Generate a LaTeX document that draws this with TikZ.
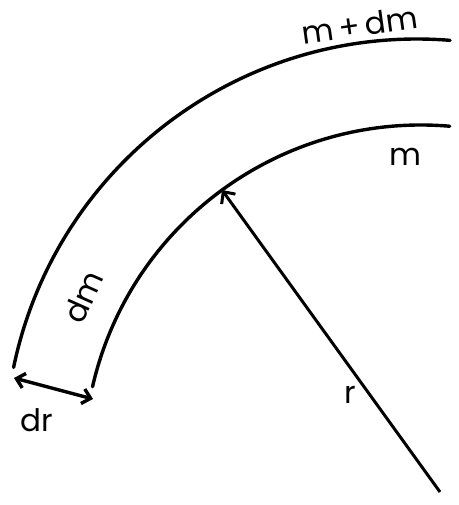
\documentclass[tikz,border=0pt]{standalone}
\usepackage{fontspec}
\setmainfont{Poppins}
\usepackage{tikz}
\usetikzlibrary{arrows.meta, positioning}
\tikzstyle{shell} = [line width=3.4pt, line cap=round]
\tikzstyle{arrow} = [line width=3pt, -{Straight Barb[length=9pt, width=17pt]}]
\tikzstyle{dblarrow} = [line width=3.4pt, {Straight Barb[length=8pt, width=15pt]}-{Straight Barb[length=8pt, width=15pt]}]
\tikzstyle{lbl} = [inner sep=0pt, font=\fontsize{31}{34}\selectfont]

\begin{document}
\begin{tikzpicture}[x=1pt, y=1pt]
    \useasboundingbox (0,0) rectangle (458,505);
    % Shells
    \coordinate (ci) at (421,43);
    \coordinate (co) at (417,54);
    \draw [shell] (ci) ++(167.1:337) arc[start angle=167.1, end angle=85.1, radius=337];
    \draw [shell] (co) ++(168.3:412) arc[start angle=168.3, end angle=85.4, radius=412];

    % Points
    \coordinate (base) at (440,13);
    \coordinate (tip) at (222,315);
    \coordinate (drL) at (14,127);
    \coordinate (drR) at (93,106);

    % Labels
    \node (mdm) [lbl, rotate=8] at (360,480) {m\,+\,dm};
    \node (m) [lbl] at (405,348) {m};
    \node (dm) [lbl, rotate=66] at (83,208) {dm};
    \node (dr) [lbl] at (37,85) {dr};
    \node (r) [lbl] at (350,110) {r};

    % Arrows
    \draw [arrow] (base) -- (tip);
    \draw [dblarrow] (drL) -- (drR);
\end{tikzpicture}
\end{document}
